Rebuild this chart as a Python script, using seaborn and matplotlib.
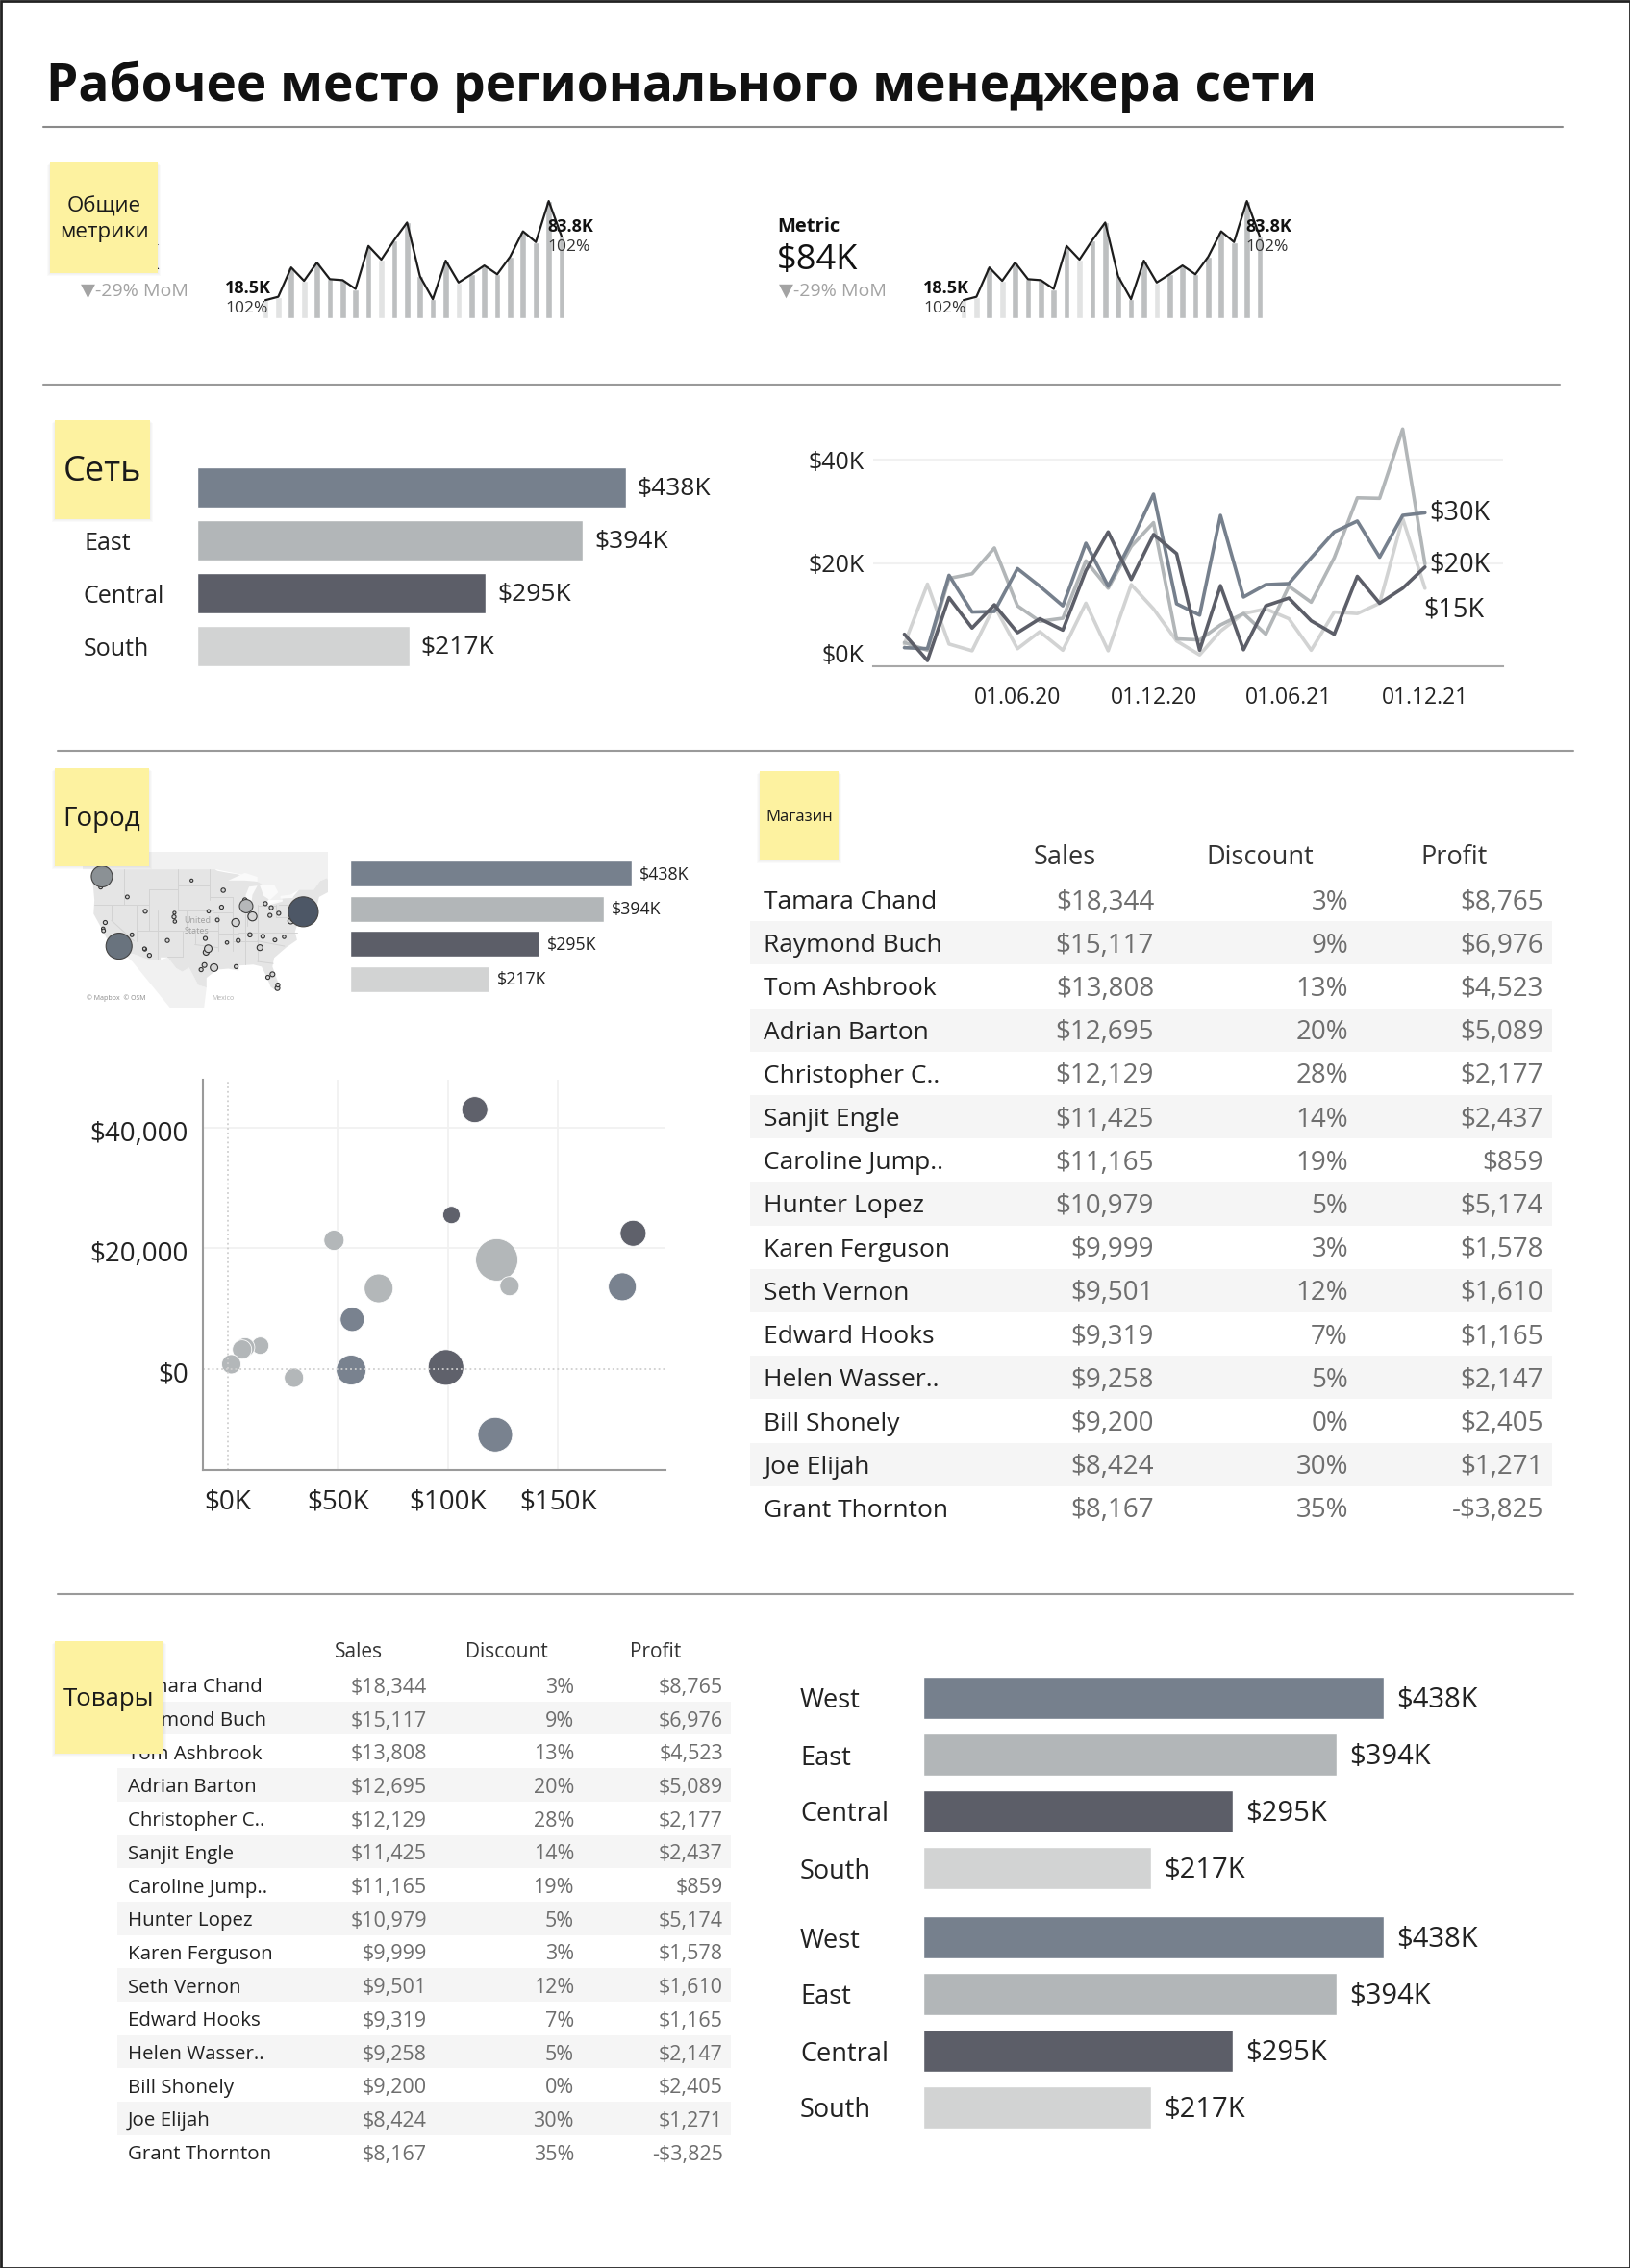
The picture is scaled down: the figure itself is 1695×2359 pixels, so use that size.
import matplotlib
matplotlib.use("Agg")
import matplotlib.pyplot as plt
import matplotlib.dates as mdates
from matplotlib.colors import ListedColormap
from matplotlib.patches import Rectangle
from matplotlib.transforms import ScaledTranslation
import numpy as np
import pandas as pd
import seaborn as sns

W, H = 1695, 2359

# --- data ---
regions = ["West", "East", "Central", "South"]
region_sales = [438, 394, 295, 217]
region_labels = ["$438K", "$394K", "$295K", "$217K"]
region_colors = ["#76808d", "#b2b6b8", "#5c5e68", "#d2d3d3"]

spark_vals = [18.5, 22, 52, 38.3, 57, 40, 39, 30, 74, 60, 80, 98,
              43, 19.5, 59, 36.6, 45, 54, 45, 63, 89, 78, 120, 83.8]
spark_light = [0, 1, 3, 9, 15]

months = pd.date_range("2020-01-01", periods=24, freq="MS")
west_month = [3.6, 3.4, 17.6, 10.5, 10.6, 18.9, 15.5, 11.7, 23.8, 15.5, 24.1, 33.3,
              12.1, 9.9, 29.2, 13.4, 15.8, 16, 21, 26, 28.1, 21.1, 29.2, 29.7]
east_month = [4.6, 3.1, 17, 17.9, 22.9, 11.7, 8.7, 9.3, 20.4, 15.1, 23.2, 27.8,
              5.3, 5.1, 8, 10.2, 6.2, 15.5, 12.4, 21, 32.6, 32.5, 45.9, 19.8]
central_month = [6.2, 1.1, 13.3, 7.4, 11.9, 6.5, 9.2, 7, 18.5, 26, 16.8, 25.5,
                 21.8, 3.1, 15.6, 3.2, 11.7, 13.2, 8.8, 6.2, 17.4, 12.2, 15.1, 19.2]
south_month = [4.3, 15.9, 4.3, 3, 11.7, 3.4, 6.7, 3.1, 12.2, 3, 15.8, 11.1,
               4.9, 2.2, 6.8, 10.2, 11.1, 9.2, 3.1, 10.5, 10.2, 12.2, 28.6, 15.1]

bubble_sales = [112.2, 101.6, 184.2, 48.2, 122.2, 128, 68.5, 179.3, 56.5,
                14.7, 7.8, 6.4, 1.5, 30, 56, 99.1, 121.5]
bubble_profit = [42970, 25520, 22490, 21330, 18090, 13740, 13370, 13630, 8220,
                 3870, 3600, 3240, 800, -1430, -160, 265, -10870]
bubble_qty = [729, 324, 729, 441, 1936, 400, 900, 841, 625,
              324, 400, 400, 400, 400, 961, 1369, 1296]
bubble_region = ["Central", "Central", "Central", "East", "East", "East", "East", "West", "West",
                 "East", "East", "East", "East", "East", "West", "Central", "West"]

names = ["Tamara Chand", "Raymond Buch", "Tom Ashbrook", "Adrian Barton", "Christopher C..",
         "Sanjit Engle", "Caroline Jump..", "Hunter Lopez", "Karen Ferguson", "Seth Vernon",
         "Edward Hooks", "Helen Wasser..", "Bill Shonely", "Joe Elijah", "Grant Thornton"]
sales = ["$18,344", "$15,117", "$13,808", "$12,695", "$12,129", "$11,425", "$11,165", "$10,979",
         "$9,999", "$9,501", "$9,319", "$9,258", "$9,200", "$8,424", "$8,167"]
discount = ["3%", "9%", "13%", "20%", "28%", "14%", "19%", "5%", "3%", "12%", "7%", "5%", "0%", "30%", "35%"]
profit = ["$8,765", "$6,976", "$4,523", "$5,089", "$2,177", "$2,437", "$859", "$5,174",
          "$1,578", "$1,610", "$1,165", "$2,147", "$2,405", "$1,271", "-$3,825"]

# rough map outlines, lon / lat
us_lon = [-124.7, -123, -122.7, -95.2, -94.6, -92, -89.6, -84.8, -82.5, -82.4, -83.1, -79, -79, -76.5, -75,
          -71.5, -70, -68.3, -67, -70.2, -70.7, -74, -75.5, -76, -75.5, -78, -81, -81.4, -80, -80.4, -81.8,
          -82.8, -84, -86, -89.5, -89.5, -92, -94.7, -97.2, -97.2, -99.2, -101.4, -103, -104.5, -106.5,
          -108.2, -108.2, -111, -114.8, -117.1, -118.5, -120.6, -122.4, -124.3, -124.1]
us_lat = [48.4, 48.2, 49, 49, 48.7, 48.3, 48, 46.5, 45.3, 43, 42, 42.8, 43.3, 43.6, 45,
          45, 46.7, 47.3, 45, 43.6, 42, 40.6, 38, 36.8, 35.2, 33.8, 31.7, 30, 26.8, 25.2, 26,
          28, 30, 30.4, 30.2, 29.2, 29.6, 29.4, 27.8, 25.9, 26.4, 29.8, 29, 29.7, 31.8,
          31.8, 31.3, 31.3, 32.5, 32.5, 34, 34.6, 37.5, 40.3, 43]
canada_lon = [-127, -95, -89, -84.8, -82.4, -79, -75, -71.5, -70, -68.3, -67, -66, -68, -127]
canada_lat = [49, 49, 48, 46.5, 43, 43, 45, 45, 46.7, 47.3, 45, 45, 53, 53]
mexico_lon = [-117.1, -114.8, -111, -108.2, -106.5, -104.5, -103, -101.4, -99.2, -97.2, -97.8, -106, -112, -115]
mexico_lat = [32.5, 32.5, 31.3, 31.3, 31.8, 29.7, 29, 29.8, 26.4, 25.9, 22, 22, 28, 31]
lakes = [
    ([-87.9, -86.5, -86.2, -85, -87, -87.8], [42, 42, 44, 45.8, 45.6, 44]),
    ([-92, -88, -85, -85, -88], [46.8, 48.3, 47.5, 46.6, 46.8]),
    ([-84.5, -81, -80, -82, -83.5], [46, 46, 44.5, 43, 43.8]),
    ([-83.4, -79, -79, -83], [41.7, 42.7, 43, 42.2]),
    ([-79.5, -76.5, -76.5, -79.5], [43.3, 43.4, 44.1, 43.8]),
]
state_lines = [
    ([-117, -117], [49, 42]), ([-124.2, -111], [42, 42]), ([-111, -111], [45, 37]),
    ([-104, -104], [49, 41]), ([-111, -104], [45, 45]), ([-114, -114], [42, 35]),
    ([-120, -120], [42, 39]), ([-120, -114.6], [39, 35]), ([-109, -109], [41, 31.4]),
    ([-114, -94.5], [37, 37]), ([-103, -103], [37, 32]), ([-103, -106.5], [32, 32]),
    ([-104, -95.5], [41, 41]), ([-104, -96.5], [45.9, 45.9]), ([-96.5, -96.5], [49, 43]),
    ([-102, -102], [41, 37]), ([-94.5, -94.5], [40, 33]), ([-100, -100], [36.5, 34.5]),
    ([-100, -94.5], [34.3, 33.7]), ([-91, -91], [43.5, 33]), ([-96.5, -91], [43.5, 43.5]),
    ([-95.5, -91], [40.6, 40.6]), ([-94.5, -89.5], [36.5, 36.5]), ([-89.5, -75.5], [36.6, 36.6]),
    ([-88, -88], [42, 30.4]), ([-85, -85], [42, 31]), ([-85, -81.2], [31, 30.6]), ([-87.5, -87.5], [42, 38]),
    ([-84.8, -80.5], [41.8, 41.8]), ([-80.5, -80.5], [42, 39.7]), ([-80.5, -75], [39.7, 39.7]),
    ([-79.8, -74.5], [42, 42]), ([-91, -85], [35, 35]), ([-85, -78.5], [35, 34]),
]
big_cities = ["Seattle", "Los Angeles", "New York", "Chicago"]
big_lon = [-122.3, -118.2, -74, -87.7]
big_lat = [47.6, 34, 40.7, 41.8]
big_qty = [484, 729, 961, 196]
big_colors = ["#8b9195", "#69737e", "#4d5766", "#b5b7b9"]
city_lon = [-122.6, -117.2, -116.2, -111.9, -112, -105, -104.8, -104.9, -121.5, -122, -121.9, -117.9, -115.1,
            -112.1, -106.6, -110.9, -97.3, -97.7, -96.8, -95.4, -98.5, -96.7, -94.6, -93.6, -93.2, -90.2,
            -89.6, -86.8, -84.4, -81.7, -80.8, -78.6, -77, -76.6, -82, -83.7, -81.4, -82.5, -80.2, -80.1,
            -90.1, -92.3, -86.2, -88, -83.1, -79.9, -97.5, -100.8]
city_lat = [45.5, 32.7, 43.6, 40.8, 33.4, 39.7, 38.8, 40.5, 38.6, 37.4, 37, 33.8, 36.2,
            33.5, 35.1, 32.2, 32.8, 30.3, 33.5, 29.8, 29.4, 40.8, 39.1, 41.6, 44.9, 38.6,
            35.1, 36.2, 33.7, 41.5, 35.2, 35.8, 38.9, 39.3, 40, 35.9, 28.5, 27.9, 25.8, 26.4,
            30, 34.7, 39.8, 43, 42.3, 40.4, 35.5, 46.8]
city_qty = [12, 10, 12, 14, 12, 14, 10, 8, 14, 10, 12, 40, 12,
            10, 14, 14, 30, 20, 50, 50, 14, 10, 12, 14, 16, 55,
            14, 16, 30, 14, 12, 10, 30, 16, 14, 14, 20, 14, 20, 14,
            14, 10, 70, 16, 14, 14, 14, 8]

sns.set_theme(style="white")
plt.rcParams["font.family"] = ["Open Sans", "DejaVu Sans"]
plt.rcParams["axes.facecolor"] = "none"

fig = plt.figure(figsize=(W / 100, H / 100), dpi=100, facecolor="white")


def add_ax(x0, y0, x1, y1, **kw):
    """Axes from a pixel box, y counted from the top."""
    return fig.add_axes([x0 / W, 1 - y1 / H, (x1 - x0) / W, (y1 - y0) / H], **kw)


def bar_panel(left, first_y, step, px_per_k, label_x, fs, bar_h, lab_fs=None):
    ax = add_ax(left, first_y - step / 2, left + 500 * px_per_k, first_y + 3.5 * step)
    df = pd.DataFrame({"region": regions, "sales": region_sales})
    sns.barplot(data=df, x="sales", y="region", hue="region", palette=region_colors,
                order=regions, width=bar_h / step, legend=False, ax=ax, saturation=1)
    ax.set_xlim(0, 500)
    ax.set_xlabel("")
    ax.set_ylabel("")
    ax.set_xticks([])
    sns.despine(ax=ax, left=True, bottom=True)
    ax.tick_params(axis="y", length=0, pad=(left - label_x) * 0.72, labelsize=lab_fs or fs, labelcolor="#222222")
    for t in ax.get_yticklabels():
        t.set_ha("left")
    for c, lab in zip(ax.containers, region_labels):
        for ann in ax.bar_label(c, labels=[lab], padding=fs * 0.45, fontsize=fs, color="#222222"):
            # text sits a little low next to the bar
            ann.xyann = (ann.xyann[0], -fs * 0.07)
    return ax


def spark(dx):
    ax = add_ax(269.3 + dx, 204, 590.7 + dx, 331)
    idx = np.arange(len(spark_vals))
    cols = ["#e2e3e3" if i in spark_light else "#bdbfc0" for i in idx]
    sns.barplot(x=idx, y=spark_vals, hue=idx, palette=cols, width=0.5, legend=False, ax=ax, saturation=1)
    sns.lineplot(x=idx, y=spark_vals, color="#1c1c1c", lw=1.6, ax=ax)
    ax.set_xlim(-0.5, 23.5)
    ax.set_ylim(0, 125)
    ax.axis("off")


def table(x0, x1, top, row_h, name_x, cols_r, head_x, head_y, fs, head_fs):
    ax = add_ax(x0, top, x1, top + 15 * row_h)
    stripes = np.array([[i % 2] for i in range(15)])
    sns.heatmap(stripes, cmap=ListedColormap(["#ffffff", "#f5f5f5"]), cbar=False,
                xticklabels=False, yticklabels=False, ax=ax)
    tr = ax.get_yaxis_transform()
    frac = lambda px: (px - x0) / (x1 - x0)
    dy = 3 / row_h
    for i in range(15):
        ax.text(frac(name_x), i + 0.5 + dy, names[i], transform=tr, fontsize=fs * 0.95, va="center", color="#222222")
        for col, r in zip((sales, discount, profit), cols_r):
            ax.text(frac(r), i + 0.5 + dy, col[i], transform=tr, fontsize=fs, va="center", ha="right", color="#6e6e6e")
    hy = (head_y - top) / row_h
    for lab, hx in zip(("Sales", "Discount", "Profit"), head_x):
        ax.text(frac(hx), hy, lab, transform=tr, fontsize=head_fs, va="center", ha="center", color="#333333")


# --- top sparklines ---
spark(0)
spark(726)

# --- network bars ---
bar_panel(205, 507, 55, 1.018, 87, 19, 42, lab_fs=18)

# --- monthly lines ---
ax = add_ax(908, 440, 1563, 693)
long_df = pd.DataFrame({"month": months, "West": west_month, "East": east_month,
                        "Central": central_month, "South": south_month}).melt("month", var_name="region", value_name="sales")
sns.lineplot(data=long_df, x="month", y="sales", hue="region", palette=dict(zip(regions, region_colors)),
             hue_order=["South", "East", "West", "Central"], lw=2.6, legend=False, ax=ax)
ax.set_xlim(pd.Timestamp("2019-11-20"), pd.Timestamp("2022-03-16"))
ax.set_ylim(0, 47.07)
ax.set_yticks([0, 20, 40], ["$0K", "$20K", "$40K"])
ax.set_xticks(pd.to_datetime(["2020-06-01", "2020-12-01", "2021-06-01", "2021-12-01"]))
ax.xaxis.set_major_formatter(mdates.DateFormatter("%d.%m.%y"))
ax.tick_params(axis="x", labelsize=16.5, length=0, pad=15, labelcolor="#222222")
ax.tick_params(axis="y", labelsize=18, length=0, pad=7, labelcolor="#222222")
# the zero label sits above the baseline in the source
zero_lab = ax.get_yticklabels()[0]
zero_lab.set_transform(zero_lab.get_transform() + ScaledTranslation(0, 9.5 / 72, fig.dpi_scale_trans))
ax.set_xlabel("")
ax.set_ylabel("")
ax.yaxis.grid(True, color="#f1f1f1", lw=1.5)
ax.xaxis.grid(False)
sns.despine(ax=ax, left=True)
ax.spines["bottom"].set_color("#a8a8a8")
ax.spines["bottom"].set_linewidth(1.5)
for lab, last, dx, dy in (("$30K", west_month[-1], 3, 0), ("$20K", central_month[-1], 3, 1.5), ("$15K", south_month[-1], -1, -16)):
    ax.annotate(lab, (months[-1], last), xytext=(dx, dy), textcoords="offset points",
                fontsize=19.5, va="center", color="#222222")

# --- map ---
ax = add_ax(86, 886, 341, 1048)
ax.fill(canada_lon, canada_lat, color="#f1f1f1", lw=0)
ax.fill(mexico_lon, mexico_lat, color="#f1f1f1", lw=0)
ax.fill(us_lon, us_lat, color="#e5e5e5", lw=0)
for lon, lat in lakes:
    ax.fill(lon, lat, color="#fafafa", lw=0)
for lon, lat in state_lines:
    ax.plot(lon, lat, color="#d3d3d3", lw=0.7)
sns.scatterplot(x=city_lon, y=city_lat, size=city_qty, sizes=(5, 45), color="#d5d5d5", edgecolor="#333333",
                linewidth=0.8, legend=False, ax=ax, zorder=3)
sns.scatterplot(x=big_lon, y=big_lat, hue=big_cities, size=big_qty, sizes=(100, 500),
                palette=dict(zip(big_cities, big_colors)),
                edgecolor="#444444", linewidth=0.8, legend=False, ax=ax, zorder=4)
ax.set_xlim(-126.9, -68.1)
ax.set_ylim(22, 52.4)
ax.axis("off")
ax.text(-99.5, 37.9, "United\nStates", fontsize=6.5, color="#a0a0a0", ha="center", va="center", linespacing=1.3)
ax.text(-126, 23.8, "© Mapbox  © OSM", fontsize=5, color="#8a8a8a", va="center")
ax.text(-96, 23.8, "Mexico", fontsize=5, color="#b0b0b0", va="center")

bar_panel(364, 908.5, 36.5, 0.669, 364, 12.8, 27)

# --- scatter ---
ax = add_ax(211, 1123, 692, 1529)
bub = pd.DataFrame({"sales": bubble_sales, "profit": bubble_profit, "qty": bubble_qty, "region": bubble_region})
sns.scatterplot(data=bub, x="sales", y="profit", hue="region", palette=dict(zip(regions, region_colors)),
                size="qty", sizes=(168, 1004), edgecolor="white", linewidth=0.6, alpha=0.98, legend=False, ax=ax)
ax.set_xlim(-11.4, 198.9)
ax.set_ylim(-16720, 47930)
ax.set_xticks([0, 50, 100, 150], ["$0K", "$50K", "$100K", "$150K"])
ax.set_yticks([0, 20000, 40000], ["$0", "$20,000", "$40,000"])
ax.tick_params(labelsize=20, length=0, labelcolor="#222222")
ax.tick_params(axis="x", pad=14)
ax.tick_params(axis="y", pad=11)
for t in ax.get_yticklabels():
    t.set_transform(t.get_transform() + ScaledTranslation(0, -2.5 / 72, fig.dpi_scale_trans))
ax.set_xlabel("")
ax.set_ylabel("")
ax.grid(True, color="#f1f1f1", lw=1.3)
# zero lines are dotted in the source
ax.get_xgridlines()[0].set_visible(False)
ax.get_ygridlines()[0].set_visible(False)
ax.axhline(0, color="#cfcfcf", lw=1.3, ls=":", zorder=1)
ax.axvline(0, color="#cfcfcf", lw=1.3, ls=":", zorder=1)
ax.set_axisbelow(True)
sns.despine(ax=ax)
for s in ("left", "bottom"):
    ax.spines[s].set_color("#9a9a9a")
    ax.spines[s].set_linewidth(1.5)

# --- tables ---
table(780, 1614, 913, 45.2, 794, (1200, 1402, 1605), (1107, 1310, 1512), 892, 20, 19.5)
table(122, 760, 1735, 34.7, 133, (444, 597, 752), (373, 527, 682), 1719, 15.5, 15)

# --- bottom bars ---
bar_panel(960, 1766, 59, 1.0925, 832, 21, 44, lab_fs=19.5)
bar_panel(960, 2015, 59, 1.0925, 832, 21, 44, lab_fs=19.5)

# --- overlay in pixel coordinates: rules, notes, free text ---
ov = fig.add_axes([0, 0, 1, 1], zorder=20)
ov.set_xlim(0, W)
ov.set_ylim(H, 0)
ov.axis("off")
ov.add_patch(Rectangle((0.5, 0.5), W - 1, H - 1, fill=False, ec="#222222", lw=2))

ov.text(48, 90, "Рабочее место регионального менеджера сети", fontsize=38.3, fontweight="bold",
        va="center", color="#111111")
for x0, x1, y, c in ((45, 1625, 132, "#8a8a8a"), (45, 1622, 400, "#9a9a9a"),
                     (60, 1636, 781, "#9a9a9a"), (60, 1636, 1658, "#9a9a9a")):
    ov.plot([x0, x1], [y, y], color=c, lw=1.5)

for dx in (0, 726):
    ov.text(82 + dx, 236, "Metric", fontsize=14.5, fontweight="bold", va="center", color="#111111")
    ov.text(82 + dx, 271, "$84K", fontsize=26, va="center", color="#111111")
    ov.text(84 + dx, 303, "▼-29% MoM", fontsize=14, va="center", color="#a3a3a3")
    ov.text(234 + dx, 300, "18.5K", fontsize=13, fontweight="bold", va="center", color="#111111")
    ov.text(234 + dx, 321, "102%", fontsize=12.5, va="center", color="#333333")
    ov.text(569 + dx, 236, "83.8K", fontsize=13, fontweight="bold", va="center", color="#111111")
    ov.text(569 + dx, 257, "102%", fontsize=12.5, va="center", color="#333333")

notes = [
    (52, 169, 164, 284, "Общие\nметрики", 16),
    (57, 437, 156, 540, "Сеть", 26),
    (57, 799, 155, 901, "Город", 20),
    (790, 802, 872, 895, "Магазин", 12),
    (57, 1707, 170, 1824, "Товары", 18.5),
]
for x0, y0, x1, y1, label, fs in notes:
    for k in range(3, 0, -1):
        ov.add_patch(Rectangle((x0 - k, y0 + k), x1 - x0 + 2 * k, y1 - y0, fc="#000000", alpha=0.02, lw=0, zorder=5))
    ov.add_patch(Rectangle((x0, y0), x1 - x0, y1 - y0, fc="#fdf2a0", lw=0, zorder=6))
    ov.text((x0 + x1) / 2, (y0 + y1) / 2 + 2, label, fontsize=fs, ha="center", va="center",
            color="#1a1a1a", linespacing=1.35, zorder=7)

fig.savefig("out.png", dpi=100)
